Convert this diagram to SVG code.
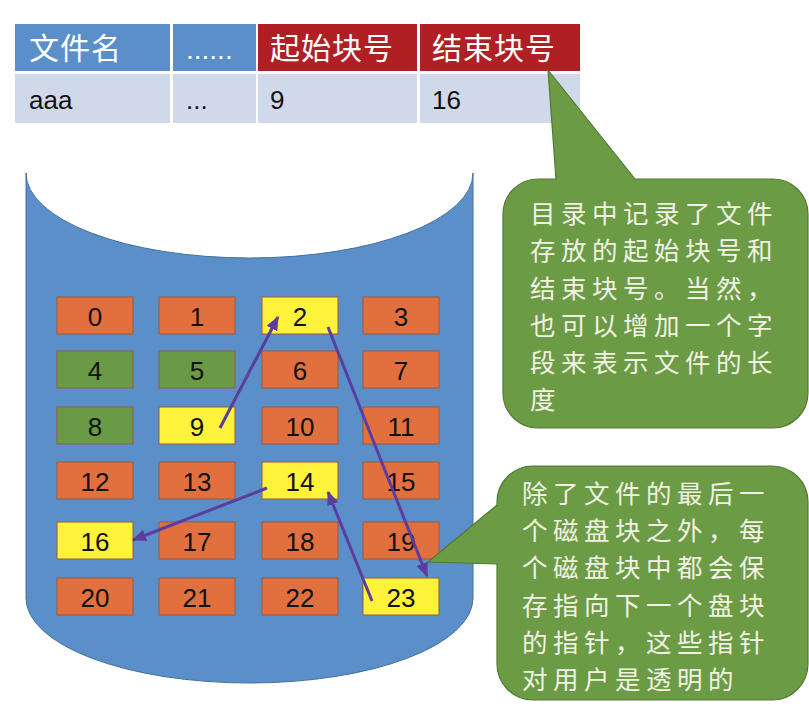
<svg xmlns="http://www.w3.org/2000/svg" width="809" height="708" viewBox="0 0 809 708">
<style>
.hdrB{fill:#5B8FC9}
.hdrR{fill:#B01F24}
.cell{fill:#CFD9EA}
.cj{font-family:"Noto Sans CJK SC","Noto Sans",sans-serif}
.ht{fill:#FFFFFF;font-size:30px;letter-spacing:1px}
.rt{font-family:"Liberation Sans",Arial,sans-serif;font-size:26px;fill:#111}
.blk{stroke:#9A5B3C;stroke-width:1}
.or{fill:#E2703F}
.gr{fill:#6A9A45}
.ye{fill:#FFF23A}
.num{font-family:"Liberation Sans",Arial,sans-serif;font-size:26px;fill:#111;text-anchor:middle}
.arr{stroke:#5A3D9E;stroke-width:3;fill:none;marker-end:url(#ah)}
.call{fill:#6B9B45;stroke:#527A33;stroke-width:1.2}
.ct{fill:#F2F2E4;font-size:25.5px;letter-spacing:5.5px}
</style>
<defs>
<marker id="ah" markerUnits="userSpaceOnUse" markerWidth="14" markerHeight="12" refX="13" refY="6" orient="auto">
<path d="M0,0 L14,6 L0,12 Z" fill="#5A3D9E"/>
</marker>
</defs>
<rect width="809" height="708" fill="#FFFFFF"/>

<g id="table">
<rect class="hdrB" x="15" y="24" width="155" height="47"/>
<rect class="hdrB" x="173" y="24" width="83" height="47"/>
<rect class="hdrR" x="258" y="24" width="159" height="47"/>
<rect class="hdrR" x="420" y="24" width="160" height="47"/>
<rect class="cell" x="15" y="74" width="155" height="49"/>
<rect class="cell" x="173" y="74" width="83" height="49"/>
<rect class="cell" x="258" y="74" width="159" height="49"/>
<rect class="cell" x="420" y="74" width="160" height="49"/>
<text class="cj ht" x="29" y="59">文件名</text>
<text x="186" y="59" font-family="Liberation Sans,Arial,sans-serif" font-size="28" fill="#FFFFFF">......</text>
<text class="cj ht" x="270" y="59">起始块号</text>
<text class="cj ht" x="432" y="59">结束块号</text>
<text class="rt" x="29" y="109">aaa</text>
<text class="rt" x="186" y="109" font-size="22">...</text>
<text class="rt" x="270" y="109">9</text>
<text class="rt" x="432" y="109">16</text>
</g>

<g id="disk">
<path d="M26,173 A223.5,85 0 0 0 473,173 L473,598 A223.5,85 0 0 1 26,598 Z" fill="#5B8FC9" stroke="#41719C" stroke-width="1"/>
</g>

<g id="blocks">
<g id="b0"><rect class="blk or" x="57" y="297" width="76" height="37"/><text class="num" x="95" y="326">0</text></g>
<g id="b1"><rect class="blk or" x="159" y="297" width="76" height="37"/><text class="num" x="197" y="326">1</text></g>
<g id="b2"><rect class="blk ye" x="262" y="297" width="76" height="37"/><text class="num" x="300" y="326">2</text></g>
<g id="b3"><rect class="blk or" x="363" y="297" width="76" height="37"/><text class="num" x="401" y="326">3</text></g>
<g id="b4"><rect class="blk gr" x="57" y="351" width="76" height="37"/><text class="num" x="95" y="380">4</text></g>
<g id="b5"><rect class="blk gr" x="159" y="351" width="76" height="37"/><text class="num" x="197" y="380">5</text></g>
<g id="b6"><rect class="blk or" x="262" y="351" width="76" height="37"/><text class="num" x="300" y="380">6</text></g>
<g id="b7"><rect class="blk or" x="363" y="351" width="76" height="37"/><text class="num" x="401" y="380">7</text></g>
<g id="b8"><rect class="blk gr" x="57" y="407" width="76" height="37"/><text class="num" x="95" y="436">8</text></g>
<g id="b9"><rect class="blk ye" x="159" y="407" width="76" height="37"/><text class="num" x="197" y="436">9</text></g>
<g id="b10"><rect class="blk or" x="262" y="407" width="76" height="37"/><text class="num" x="300" y="436">10</text></g>
<g id="b11"><rect class="blk or" x="363" y="407" width="76" height="37"/><text class="num" x="401" y="436">11</text></g>
<g id="b12"><rect class="blk or" x="57" y="462" width="76" height="37"/><text class="num" x="95" y="491">12</text></g>
<g id="b13"><rect class="blk or" x="159" y="462" width="76" height="37"/><text class="num" x="197" y="491">13</text></g>
<g id="b14"><rect class="blk ye" x="262" y="462" width="76" height="37"/><text class="num" x="300" y="491">14</text></g>
<g id="b15"><rect class="blk or" x="363" y="462" width="76" height="37"/><text class="num" x="401" y="491">15</text></g>
<g id="b16"><rect class="blk ye" x="57" y="522" width="76" height="37"/><text class="num" x="95" y="551">16</text></g>
<g id="b17"><rect class="blk or" x="159" y="522" width="76" height="37"/><text class="num" x="197" y="551">17</text></g>
<g id="b18"><rect class="blk or" x="262" y="522" width="76" height="37"/><text class="num" x="300" y="551">18</text></g>
<g id="b19"><rect class="blk or" x="363" y="522" width="76" height="37"/><text class="num" x="401" y="551">19</text></g>
<g id="b20"><rect class="blk or" x="57" y="578" width="76" height="37"/><text class="num" x="95" y="607">20</text></g>
<g id="b21"><rect class="blk or" x="159" y="578" width="76" height="37"/><text class="num" x="197" y="607">21</text></g>
<g id="b22"><rect class="blk or" x="262" y="578" width="76" height="37"/><text class="num" x="300" y="607">22</text></g>
<g id="b23"><rect class="blk ye" x="363" y="578" width="76" height="37"/><text class="num" x="401" y="607">23</text></g>
</g>

<g id="connectors">
<line class="arr" x1="220" y1="428" x2="278" y2="317"/>
<line class="arr" x1="328" y1="327" x2="427" y2="576"/>
<line class="arr" x1="372" y1="601" x2="328" y2="492"/>
<line class="arr" x1="267" y1="488" x2="133" y2="540"/>
</g>

<g id="callout1">
<path class="call" d="M548,70 L635,179 L773,179 A35,35 0 0 1 808,214 L808,393 A35,35 0 0 1 773,428 L538,428 A35,35 0 0 1 503,393 L503,214 A35,35 0 0 1 538,179 L556,179 Z"/>
<g class="cj ct">
<text x="530" y="223">目录中记录了文件</text>
<text x="530" y="260">存放的起始块号和</text>
<text x="530" y="298">结束块号。当然，</text>
<text x="530" y="335">也可以增加一个字</text>
<text x="530" y="372">段来表示文件的长</text>
<text x="530" y="409">度</text>
</g>
</g>

<g id="callout2">
<path class="call" d="M428,562 L497,505 L497,502 A36,36 0 0 1 533,466 L772,466 A36,36 0 0 1 808,502 L808,664 A36,36 0 0 1 772,700 L533,700 A36,36 0 0 1 497,664 L497,564 Z"/>
<g class="cj ct">
<text x="522" y="503">除了文件的最后一</text>
<text x="522" y="540">个磁盘块之外，每</text>
<text x="522" y="577">个磁盘块中都会保</text>
<text x="522" y="615">存指向下一个盘块</text>
<text x="522" y="652">的指针，这些指针</text>
<text x="522" y="689">对用户是透明的</text>
</g>
</g>
</svg>
